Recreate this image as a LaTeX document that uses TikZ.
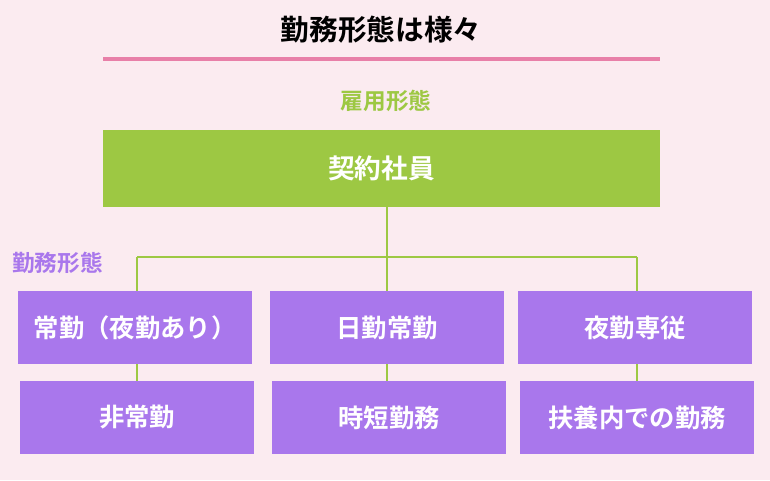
\documentclass[tikz,border=0pt]{standalone}
\usepackage{fontspec}
\setmainfont{Noto Sans CJK JP}[BoldFont={* Bold}]
\definecolor{bg}{HTML}{FBEBF0}
\definecolor{pk}{HTML}{E87FA8}
\definecolor{gr}{HTML}{9DC843}
\definecolor{pu}{HTML}{A977EC}
\begin{document}
\begin{tikzpicture}[x=0.75pt,y=-0.75pt,
  pbox/.style={fill=pu,text=white,font=\fontsize{19}{21}\selectfont\bfseries,inner sep=0pt,minimum width=175.5pt,minimum height=55pt},
  conn/.style={draw=gr,line width=1pt}]
\fill[bg] (0,0) rectangle (770,480);
\node[font=\fontsize{21.5}{24}\selectfont\bfseries] (title) at (381,30) {勤務形態は様々};
\draw[pk,line width=3pt] (103,59) -- (660,59);
\node[text=gr,font=\fontsize{17}{19}\selectfont\bfseries] (koyo) at (386,101) {雇用形態};
\node[fill=gr,text=white,font=\fontsize{20}{22}\selectfont\bfseries,minimum width=417.75pt,minimum height=57.75pt,inner sep=0pt] (keiyaku) at (381.5,168.5) {契約社員};
\node[text=pu,font=\fontsize{17}{19}\selectfont\bfseries,anchor=west,inner sep=0pt] (kinmu) at (12,263) {勤務形態};
\node[pbox] (a1) at (135,327.5) {常勤（夜勤あり）};
\node[pbox] (a2) at (387,327.5) {日勤常勤};
\node[pbox] (a3) at (635,327.5) {夜勤専従};
\node[pbox] (b1) at (137,417.5) {非常勤};
\node[pbox] (b2) at (389,417.5) {時短勤務};
\node[pbox] (b3) at (637,417.5) {扶養内での勤務};
\coordinate (j) at (387,257);
\coordinate (jl) at (137,257);
\coordinate (jr) at (637,257);
\draw[conn] (keiyaku.south -| j) -- (j);
\draw[conn] (jl) -- (jr);
\draw[conn] (jl) -- (jl |- a1.north);
\draw[conn] (j) -- (a2.north);
\draw[conn] (jr) -- (jr |- a3.north);
\draw[conn] (a1.south -| jl) -- (b1.north);
\draw[conn] (a2.south) -- (b2.north -| a2.south);
\draw[conn] (a3.south -| jr) -- (b3.north);
\end{tikzpicture}
\end{document}
